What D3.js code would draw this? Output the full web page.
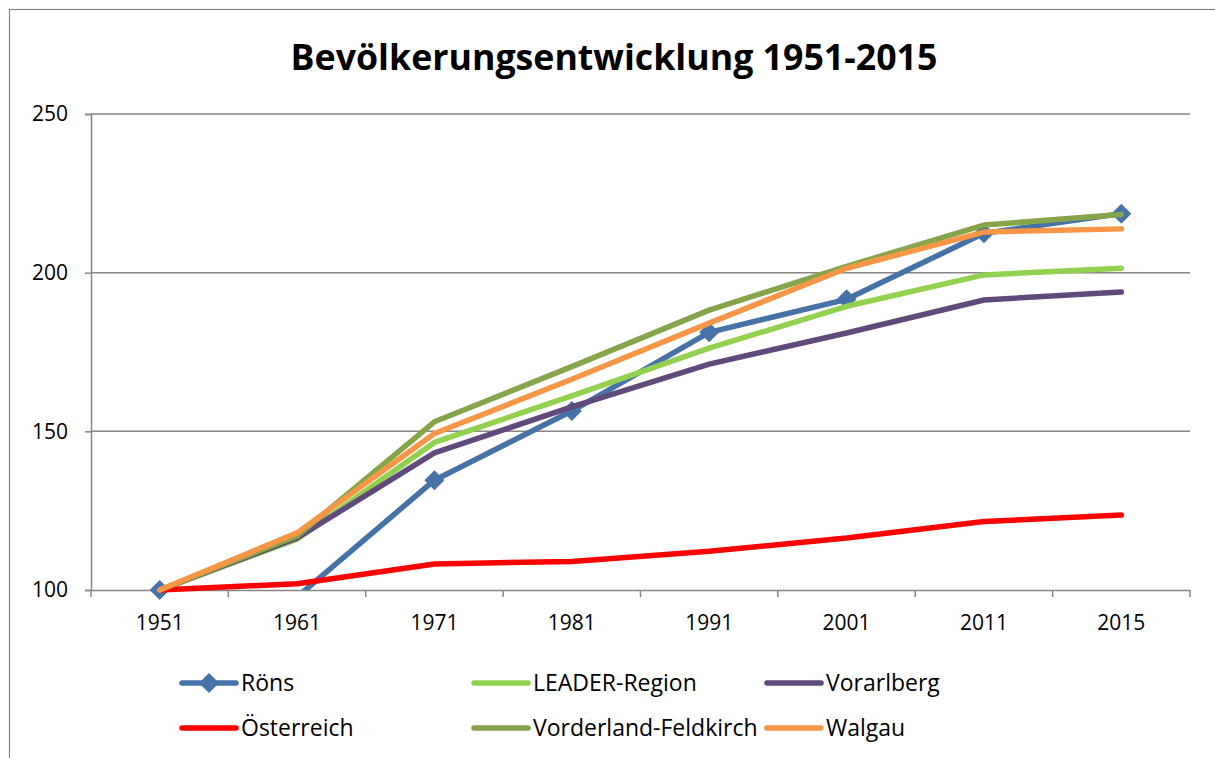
<!DOCTYPE html>
<html>
<head>
<meta charset="utf-8">
<script src="https://cdn.jsdelivr.net/npm/d3@7"></script>
<style>
html,body{margin:0;padding:0;background:#fff;overflow:hidden;}
svg{display:block;}
text{font-family:"Open Sans","Noto Sans",sans-serif;fill:#000;}
</style>
</head>
<body>
<svg id="chart" width="1215" height="758"></svg>
<script>
const title = "Bevölkerungsentwicklung 1951-2015";
const years = ["1951","1961","1971","1981","1991","2001","2011","2015"];
const yTicks = [100,150,200,250];

const roens        = [100, 97.8, 134.6, 156.4, 181.2, 191.6, 212.4, 218.6];
const leader       = [100, 116.0, 146.5, 161.2, 176.2, 189.4, 199.3, 201.4];
const vorarlberg   = [100, 116.4, 143.2, 157.7, 171.2, 181.0, 191.4, 193.9];
const oesterreich  = [100, 102.0, 108.2, 109.0, 112.2, 116.4, 121.6, 123.6];
const vorderland   = [100, 117.0, 153.0, 170.4, 188.2, 202.0, 215.0, 218.3];
const walgau       = [100, 118.0, 149.3, 166.4, 184.1, 201.4, 212.8, 213.8];

const seriesNames  = ["Röns","LEADER-Region","Vorarlberg","Österreich","Vorderland-Feldkirch","Walgau"];
const seriesValues = [roens, leader, vorarlberg, oesterreich, vorderland, walgau];
const seriesColors = ["#4572a7","#92d050","#604a7b","#ff0000","#86a44a","#f79646"];
const seriesMarker = [true,false,false,false,false,false];

(function(){
const svg = d3.select("#chart");
const pLeft = 91, pRight = 1190, pTop = 114, pBottom = 590;

// outer chart frame
svg.append("rect").attr("x",9.5).attr("y",9.5).attr("width",1220).attr("height",760)
  .attr("fill","#fff").attr("stroke","#868686").attr("stroke-width",1.2);

// title
const t = svg.append("text").attr("x",614).attr("y",70).attr("text-anchor","middle")
  .attr("font-weight","bold").attr("font-size",36).text(title);
const tw = t.node().getComputedTextLength();
t.attr("font-size", 36*647/tw);

const x = d3.scaleBand().domain(years).range([pLeft,pRight]).padding(0);
const y = d3.scaleLinear().domain([100,250]).range([pBottom,pTop]);

// gridlines
svg.append("g").selectAll("line").data(yTicks.filter(d=>d>100)).join("line")
  .attr("x1",pLeft).attr("x2",pRight).attr("y1",d=>y(d)).attr("y2",d=>y(d))
  .attr("stroke","#868686").attr("stroke-width",1.5);

// y axis
const yAxis = svg.append("g").attr("transform",`translate(${pLeft},0)`)
  .call(d3.axisLeft(y).tickValues(yTicks).tickSize(6).tickPadding(17).tickFormat(d3.format("d")));
yAxis.select(".domain").attr("stroke","#868686").attr("stroke-width",1.5);
yAxis.selectAll(".tick line").attr("stroke","#868686").attr("stroke-width",1.5);
yAxis.selectAll(".tick text").attr("font-size",21).attr("font-family","Open Sans").attr("fill","#000");

// x axis
const xAxis = svg.append("g").attr("transform",`translate(0,${pBottom})`)
  .call(d3.axisBottom(x).tickSize(0).tickPadding(25));
xAxis.select(".domain").attr("stroke","#868686").attr("stroke-width",1.5);
xAxis.selectAll(".tick text").attr("font-size",21).attr("font-family","Open Sans").attr("fill","#000");
// category boundary ticks
const bounds = years.map(d=>x(d)).concat([x(years[years.length-1])+x.bandwidth()]);
svg.append("g").selectAll("line").data(bounds).join("line")
  .attr("x1",d=>d).attr("x2",d=>d).attr("y1",pBottom).attr("y2",pBottom+7)
  .attr("stroke","#868686").attr("stroke-width",1.5);

// clips: loose one for series sitting on the axis, strict one for series dipping below it
const defs = svg.append("defs");
defs.append("clipPath").attr("id","clipLoose").append("rect")
  .attr("x",pLeft-10).attr("y",pTop-10).attr("width",pRight-pLeft+20).attr("height",pBottom-pTop+13);
defs.append("clipPath").attr("id","clipStrict").append("rect")
  .attr("x",pLeft-10).attr("y",pTop-10).attr("width",pRight-pLeft+20).attr("height",pBottom-pTop+10);

const line = d3.line().x((d,i)=>x(years[i])+x.bandwidth()/2).y(d=>y(d));
const diamond = r => `M0,${-r}L${r},0L0,${r}L${-r},0Z`;

seriesValues.forEach((vals,k)=>{
  const dips = d3.min(vals) < 100;
  svg.append("path").datum(vals).attr("d",line).attr("fill","none")
    .attr("clip-path", dips ? "url(#clipStrict)" : "url(#clipLoose)")
    .attr("stroke",seriesColors[k]).attr("stroke-width",5.5)
    .attr("stroke-linejoin","round").attr("stroke-linecap","round");
  if(seriesMarker[k]){
    svg.append("g").selectAll("path").data(vals.map((v,i)=>({v,i})).filter(d=>d.v>=100)).join("path")
      .attr("transform",d=>`translate(${x(years[d.i])+x.bandwidth()/2},${y(d.v)})`)
      .attr("d",diamond(10)).attr("fill",seriesColors[k]);
  }
});

// legend
const legCols = [182, 474, 767];
const legRows = [683, 728];
seriesNames.forEach((name,k)=>{
  const cx = legCols[k%3], cy = legRows[Math.floor(k/3)];
  const g = svg.append("g");
  g.append("line").attr("x1",cx).attr("x2",cx+54).attr("y1",cy).attr("y2",cy)
    .attr("stroke",seriesColors[k]).attr("stroke-width",5.5).attr("stroke-linecap","round");
  if(seriesMarker[k]) g.append("path").attr("transform",`translate(${cx+27},${cy})`).attr("d",diamond(10)).attr("fill",seriesColors[k]);
  g.append("text").attr("x",cx+59).attr("y",cy).attr("dy","0.35em").attr("font-size",23).text(name);
});
})();
</script>
</body>
</html>
